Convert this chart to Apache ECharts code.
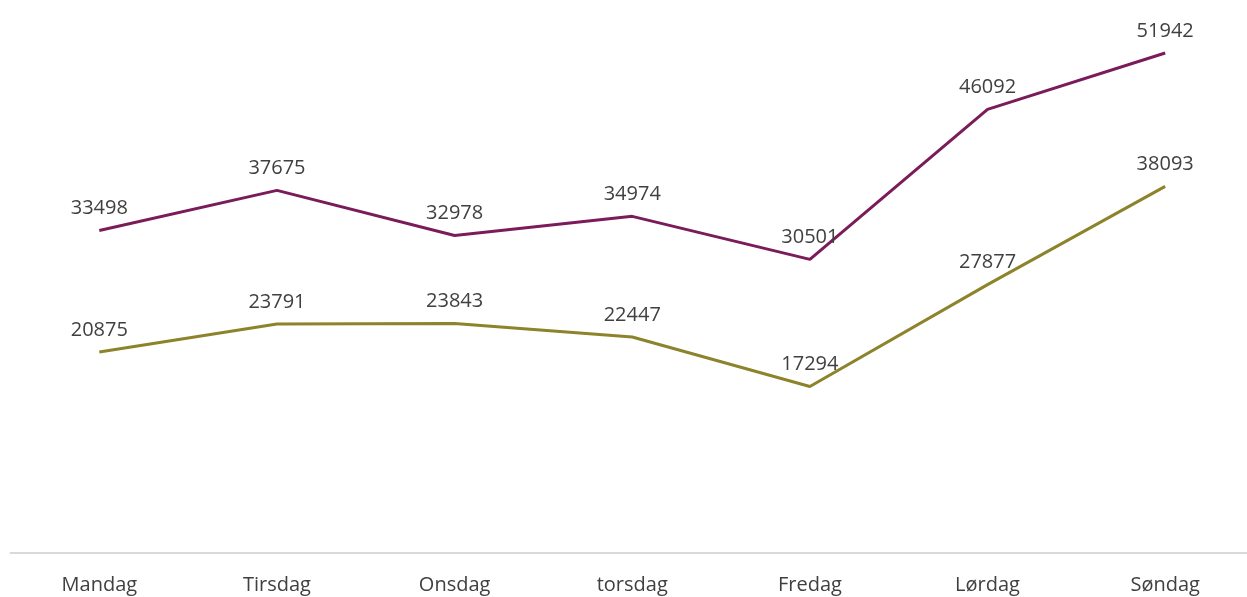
<!DOCTYPE html>
<html>
<head>
<meta charset="utf-8">
<script src="https://cdn.jsdelivr.net/npm/echarts@6/dist/echarts.min.js"></script>
<style>
  html, body { margin: 0; padding: 0; background: #fff; overflow: hidden; }
  #chart { width: 1254px; height: 597px; }
</style>
</head>
<body>
<div id="chart"></div>
<script>
const days = ['Mandag', 'Tirsdag', 'Onsdag', 'torsdag', 'Fredag', 'Lørdag', 'Søndag'];
const upperSeries = [33498, 37675, 32978, 34974, 30501, 46092, 51942];
const lowerSeries = [20875, 23791, 23843, 22447, 17294, 27877, 38093];

const font = '"Open Sans", sans-serif';
const labelColor = '#404040';

const chart = echarts.init(document.getElementById('chart'));

function lineSeries(name, data, color) {
    return {
        name: name,
        type: 'line',
        data: data,
        symbol: 'circle',
        symbolSize: 2,
        showSymbol: true,
        lineStyle: { color: color, width: 3 },
        itemStyle: { color: 'rgba(0,0,0,0)', borderWidth: 0 },
        label: {
            show: true,
            position: 'top',
            distance: 11,
            color: labelColor,
            fontFamily: font,
            fontSize: 20
        },
        labelLayout: { hideOverlap: false },
        animation: false
    };
}

chart.setOption({
    grid: { left: 10.5, right: 0, top: 0, bottom: 44, containLabel: false },
    xAxis: {
        type: 'category',
        data: days,
        boundaryGap: true,
        axisLine: { lineStyle: { color: '#d9d9d9', width: 2 } },
        axisTick: { show: false },
        axisLabel: {
            color: labelColor,
            fontFamily: font,
            fontSize: 20,
            margin: 22
        }
    },
    yAxis: {
        type: 'value',
        min: 0,
        max: 57450,
        show: false,
        splitLine: { show: false }
    },
    series: [
        lineSeries('A', upperSeries, '#7b1c5a'),
        lineSeries('B', lowerSeries, '#8c832b')
    ]
});
</script>
</body>
</html>
